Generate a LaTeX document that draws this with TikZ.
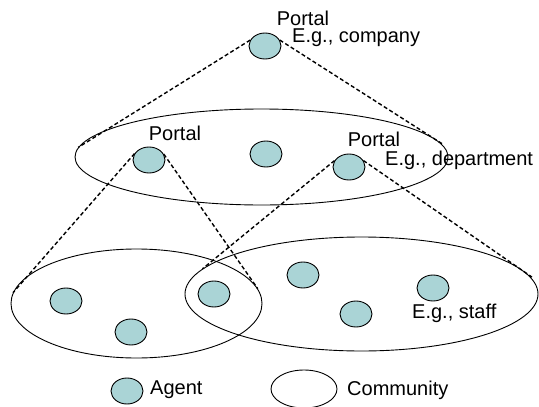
\documentclass[tikz,border=0pt]{standalone}
\usepackage{fontspec}
\setmainfont{Liberation Sans}
\usetikzlibrary{shapes.geometric}
\definecolor{agentfill}{RGB}{170,212,214}
\tikzset{
  agent/.style={ellipse,draw=black,line width=0.9pt,fill=agentfill,minimum width=32pt,minimum height=26pt,inner sep=0pt},
  community/.style={ellipse,draw=black,line width=0.9pt,inner sep=0pt},
  link/.style={draw=black,line width=1.4pt,dash pattern=on 4pt off 2.5pt},
  lbl/.style={font=\fontsize{20}{22}\selectfont,inner sep=0pt}
}
\begin{document}
\begin{tikzpicture}[x=1pt,y=-1pt]
\useasboundingbox (0,0) rectangle (539,407);
% communities
\node[community,minimum width=373pt,minimum height=96pt] (mid) at (261.5,157) {};
\node[community,minimum width=251pt,minimum height=109pt] (ll) at (136.5,303.5) {};
\node[community,minimum width=353pt,minimum height=114pt] (lr) at (361.5,294) {};
% agents
\node[agent] (top) at (265,46) {};
\node[agent] (m1) at (149,160) {};
\node[agent] (m2) at (266,154) {};
\node[agent] (m3) at (349,167) {};
\node[agent] (l1) at (66,301) {};
\node[agent] (l2) at (131,332) {};
\node[agent] (l3) at (214,294) {};
\node[agent] (r1) at (303,275) {};
\node[agent] (r2) at (356,314) {};
\node[agent] (r3) at (433,288) {};
% links
\draw[link] (top.158) -- (mid.177);
\draw[link,shorten >=-4pt] (top.22) -- (mid.5);
\draw[link] (m1.156) -- (ll.175.6);
\draw[link] (m1.22) -- (ll.7.3);
\draw[link] (m3.156) -- (lr.171.7);
\draw[link,shorten >=-6pt] (m3.24) -- (lr.7);
% labels
\node[lbl] (t1) at (303,18) {Portal};
\node[lbl,anchor=west] (t2) at (292,38) {E.g., company};
\node[lbl] (t3) at (175,133) {Portal};
\node[lbl] (t4) at (374,139) {Portal};
\node[lbl,anchor=west] (t5) at (385,160) {E.g., department};
\node[lbl,anchor=west] (t6) at (412,313) {E.g., staff};
% legend
\node[agent] (lega) at (127,391) {};
\node[lbl,anchor=west] (legat) at (150,390) {Agent};
\begin{scope}
\clip (0,0) rectangle (539,407);
\node[community,minimum width=66pt,minimum height=38pt] (legc) at (304,389) {};
\end{scope}
\node[lbl,anchor=west] (legct) at (347,390) {Community};
\end{tikzpicture}
\end{document}
